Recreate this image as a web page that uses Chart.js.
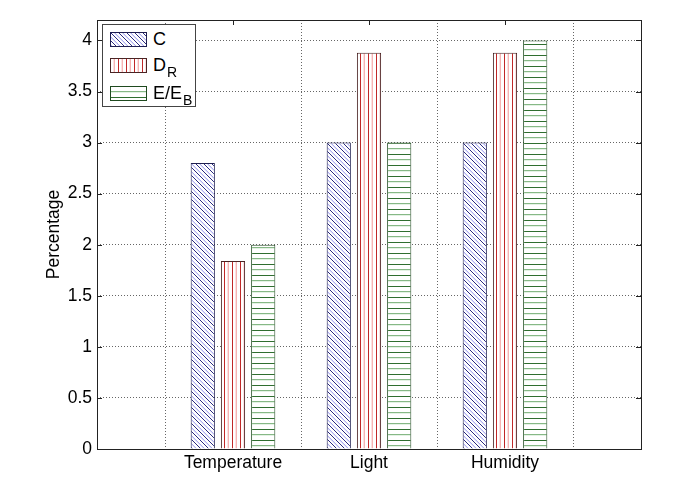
<!DOCTYPE html>
<html>
<head>
<meta charset="utf-8">
<script src="https://cdn.jsdelivr.net/npm/chart.js@4.4.1/dist/chart.umd.min.js"></script>
<style>
  html, body { margin: 0; padding: 0; background: #fff; }
  #wrap { position: relative; width: 677px; height: 481px; }
  #legend { position: absolute; left: 102px; top: 24px; width: 94px; height: 83px;
    border: 1px solid #444; background: #fff; font-family: "Liberation Sans", Arial, sans-serif;
    font-size: 18px; color: #000; box-sizing: border-box; }
  .item { position: absolute; left: 7px; height: 16px; }
  .item canvas { position: absolute; left: 0; top: 0; }
  .item span { position: absolute; left: 43px; top: -3px; white-space: nowrap; line-height: 20px; }
  .item sub { font-size: 14px; position: relative; top: 6px; vertical-align: baseline; margin-left: 1px; }
</style>
</head>
<body>
<div id="wrap">
  <canvas id="c" width="677" height="481"></canvas>
  <div id="legend"></div>
</div>
<script>
// ---- data ----
const categories = ['Temperature', 'Light', 'Humidity'];
const categoryPositions = [1, 2, 3];
const seriesNames = ['C', 'D<sub>R</sub>', 'E/E<sub>B</sub>'];
const seriesC = [2.8, 3.0, 3.0];
const seriesD = [1.84, 3.88, 3.88];
const seriesE = [2.0, 3.0, 4.0];
const yTicks = [0, 0.5, 1, 1.5, 2, 2.5, 3, 3.5, 4];

// ---- patterns ----
function makeTile(w, h, draw) {
  const t = document.createElement('canvas');
  t.width = w; t.height = h;
  const g = t.getContext('2d');
  g.fillStyle = '#fff'; g.fillRect(0, 0, w, h);
  draw(g);
  return t;
}
const tileC = makeTile(8, 8, g => {
  for (let x = 0; x < 8; x++) {
    g.fillStyle = '#2a2a80'; g.fillRect(x, x, 1, 1);
    g.fillStyle = '#b0b0f2'; g.fillRect(x, (x + 4) % 8, 1, 1);
    g.fillStyle = '#dcdcfa'; g.fillRect(x, (x + 5) % 8, 1, 1);
  }
});
const tileD = makeTile(8, 8, g => {
  g.fillStyle = '#c02828'; g.fillRect(0, 0, 1, 8);
  g.fillStyle = '#f6b4b4'; g.fillRect(4, 0, 1, 8);
  g.fillStyle = '#fde0e0'; g.fillRect(3, 0, 1, 8);
});
const tileE = makeTile(8, 11, g => {
  g.fillStyle = '#2f6e2f'; g.fillRect(0, 0, 8, 1);
  g.fillStyle = '#86b886'; g.fillRect(0, 5, 8, 1);
  g.fillStyle = '#e4f2e4'; g.fillRect(0, 6, 8, 1);
});
const ctx = document.getElementById('c').getContext('2d');
const patC = ctx.createPattern(tileC, 'repeat');
const patD = ctx.createPattern(tileD, 'repeat');
const patE = ctx.createPattern(tileE, 'repeat');
const fills = [patC, patD, patE];
const tiles = [tileC, tileD, tileE];
const borders = ['#1e1e50', '#4a2424', '#1f4a1f'];

const FONT = '"Liberation Sans", Arial, sans-serif';

function pts(vals) { return vals.map((v, i) => ({ x: categoryPositions[i], y: v })); }

const boxPlugin = {
  id: 'box',
  afterDraw(chart) {
    const { ctx, chartArea: a, scales } = chart;
    ctx.save();
    ctx.strokeStyle = '#222';
    ctx.lineWidth = 1;
    ctx.beginPath();
    // inward ticks
    yTicks.forEach(v => {
      const y = Math.round(scales.y.getPixelForValue(v)) + 0.5;
      ctx.moveTo(a.left, y); ctx.lineTo(a.left + 5, y);
      ctx.moveTo(a.right, y); ctx.lineTo(a.right - 5, y);
    });
    categoryPositions.forEach(v => {
      const x = Math.round(scales.x.getPixelForValue(v)) + 0.5;
      ctx.moveTo(x, a.top); ctx.lineTo(x, a.top + 5);
    });
    ctx.stroke();
    ctx.strokeRect(Math.round(a.left) + 0.5, Math.round(a.top) + 0.5,
      Math.round(a.right - a.left), Math.round(a.bottom - a.top));
    ctx.restore();
  }
};

new Chart(ctx, {
  type: 'bar',
  data: {
    datasets: [seriesC, seriesD, seriesE].map((s, i) => ({
      label: seriesNames[i].replace(/<\/?sub>/g, ''),
      data: pts(s),
      backgroundColor: fills[i],
      borderColor: borders[i],
      borderWidth: 1,
      categoryPercentage: 2 / 3,
      barPercentage: 0.8
    }))
  },
  options: {
    responsive: false,
    animation: false,
    layout: { padding: { left: 0, top: 20, right: 36, bottom: 0 } },
    plugins: { legend: { display: false }, tooltip: { enabled: false } },
    scales: {
      x: {
        type: 'linear', min: 0, max: 4, offset: false,
        afterBuildTicks: s => { s.ticks = categoryPositions.map(v => ({ value: v })); },
        afterFit: s => { s.height = 32; },
        ticks: {
          autoSkip: false, maxRotation: 0, padding: 4, color: '#000',
          font: { family: FONT, size: 17.5 },
          callback: (v) => categories[categoryPositions.indexOf(v)] || ''
        },
        grid: { color: 'rgba(0,0,0,0.6)', drawTicks: false },
        border: { display: false, dash: [1, 2] }
      },
      y: {
        min: 0, max: 4.2,
        afterBuildTicks: s => { s.ticks = yTicks.map(v => ({ value: v })); },
        afterFit: s => { s.width = 97; },
        ticks: {
          padding: 5, color: '#000', font: { family: FONT, size: 17.5 },
          callback: v => String(v)
        },
        title: {
          display: true, text: 'Percentage', color: '#000',
          font: { family: FONT, size: 17.5 }, padding: { top: 44, bottom: 0 }
        },
        grid: { color: 'rgba(0,0,0,0.6)', drawTicks: false },
        border: { display: false, dash: [1, 2] }
      }
    }
  },
  plugins: [boxPlugin]
});

// ---- legend ----
const legend = document.getElementById('legend');
const itemTops = [7, 33, 61];
seriesNames.forEach((name, i) => {
  const it = document.createElement('div');
  it.className = 'item';
  it.style.top = itemTops[i] + 'px';
  const sw = document.createElement('canvas');
  sw.width = 37; sw.height = 15;
  const g = sw.getContext('2d');
  g.fillStyle = g.createPattern(tiles[i], 'repeat');
  g.fillRect(0, 0, 37, 15);
  g.strokeStyle = borders[i];
  g.strokeRect(0.5, 0.5, 36, 14);
  const sp = document.createElement('span');
  sp.innerHTML = name;
  it.appendChild(sw); it.appendChild(sp);
  legend.appendChild(it);
});
</script>
</body>
</html>
